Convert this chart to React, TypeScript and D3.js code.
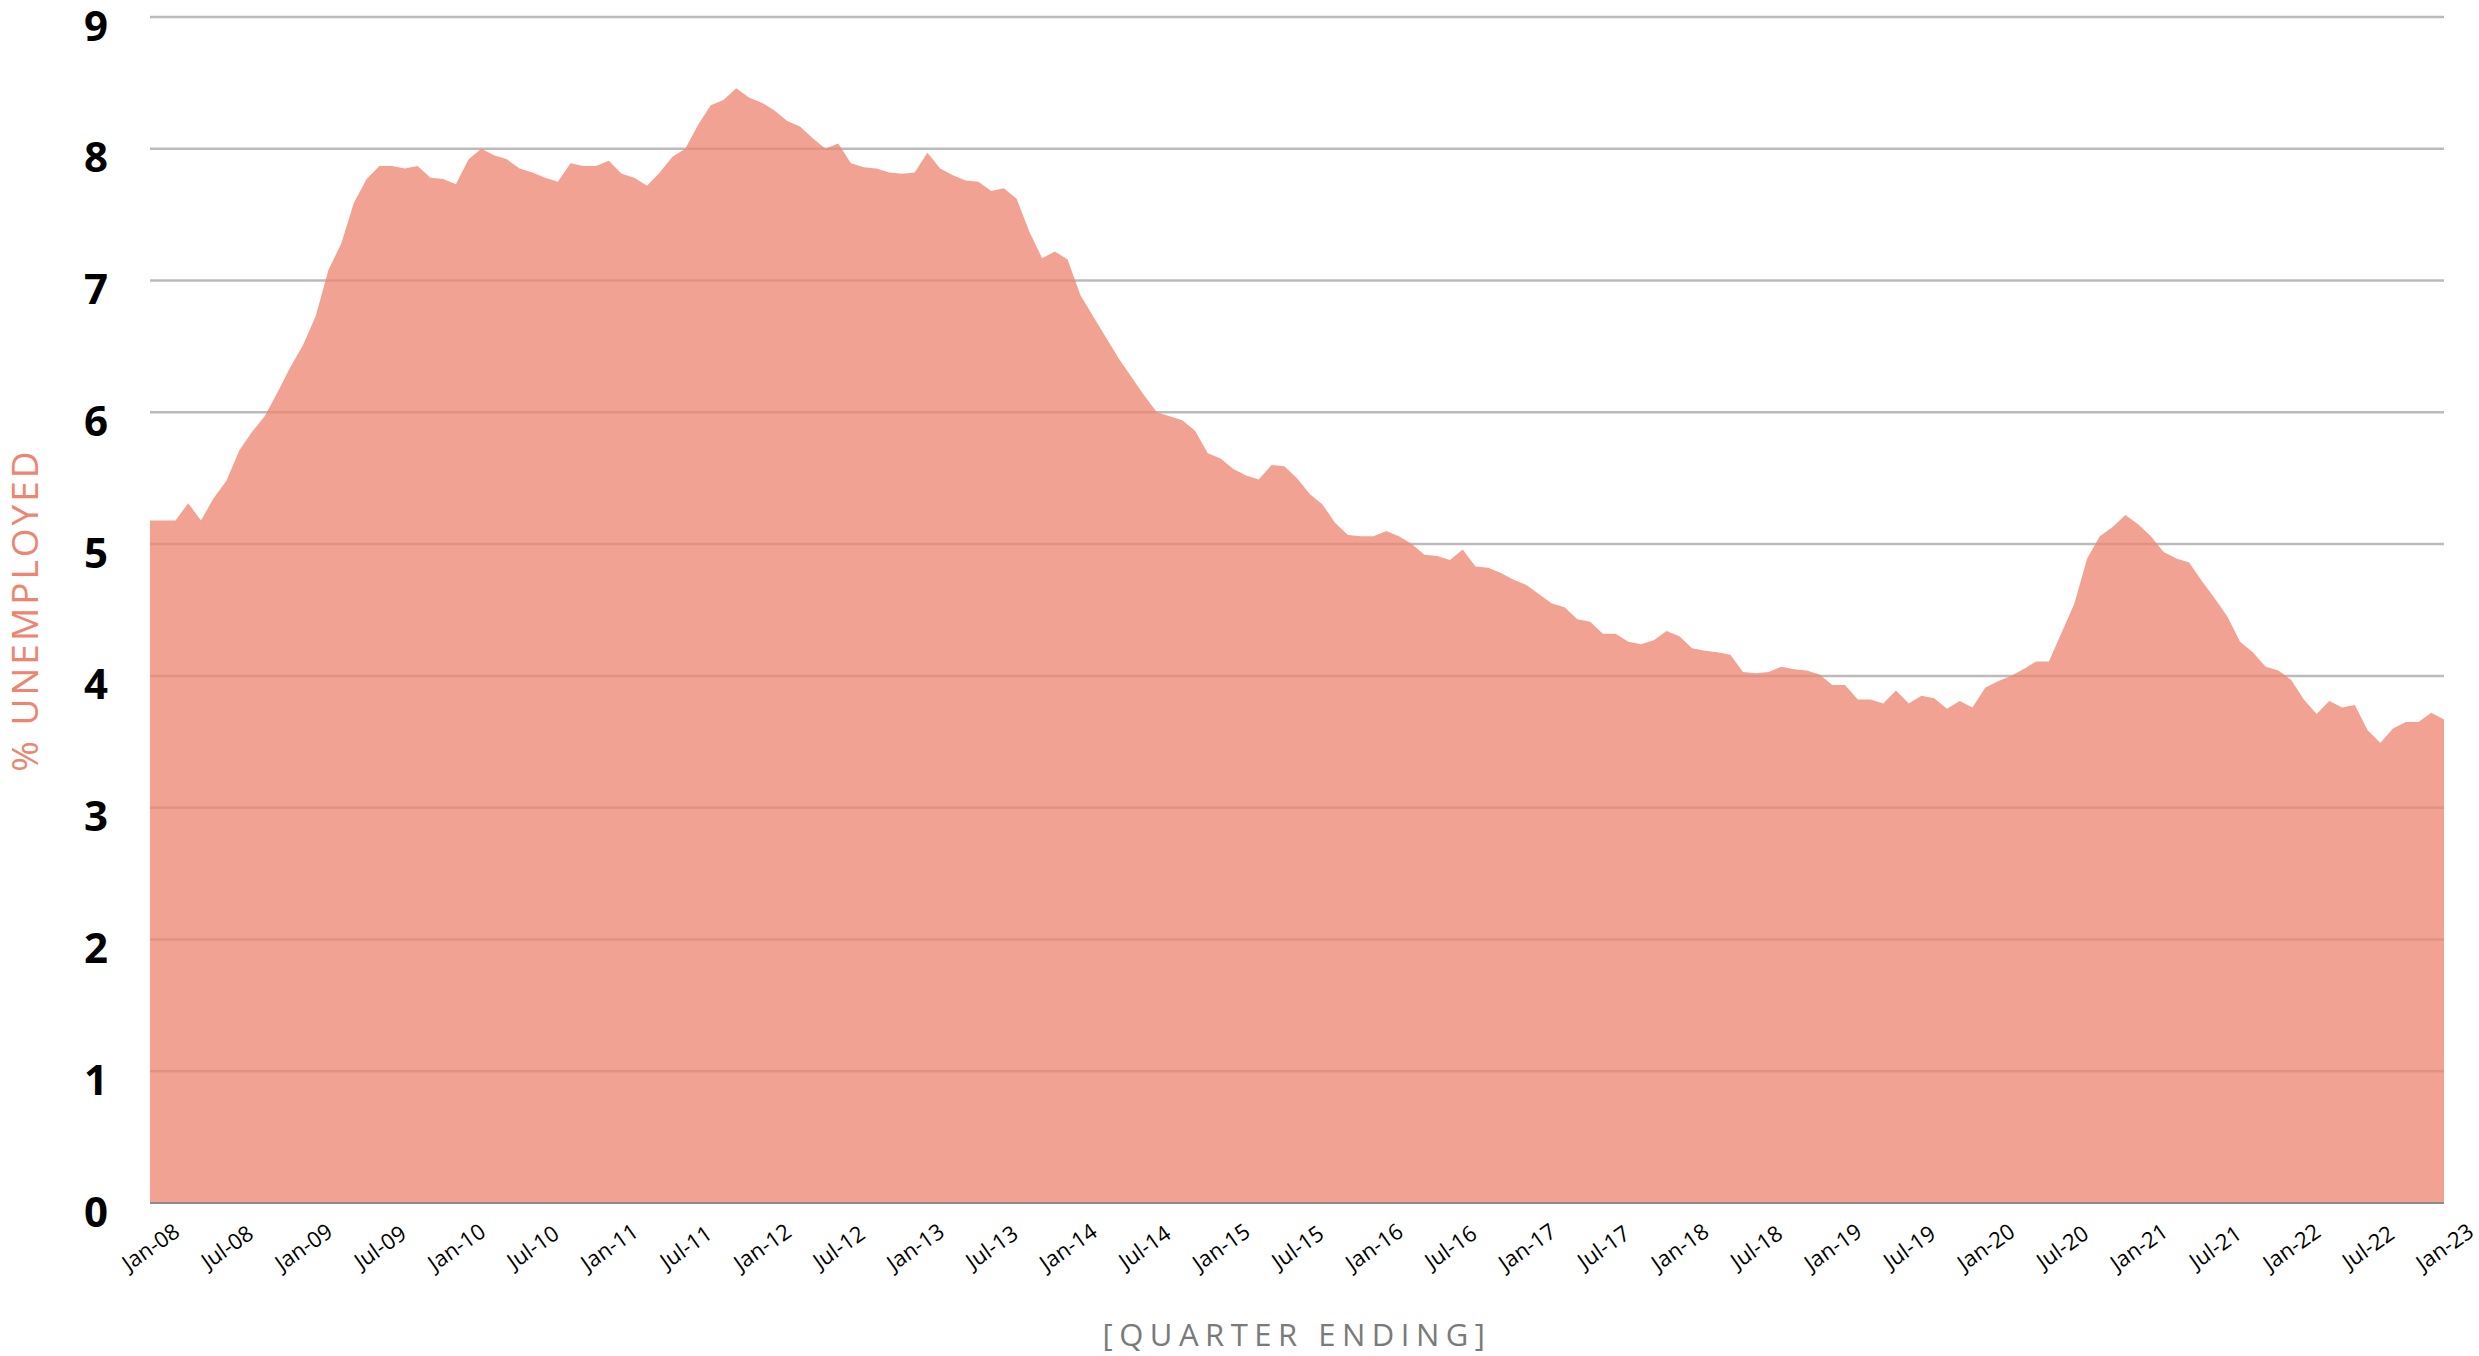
import React, { useEffect, useRef } from 'react';
import * as d3 from 'd3';

// % unemployed, monthly (quarter ending), Jan-08 .. Jan-23
const rate2008to2010 = [
  5.18, 5.18, 5.18, 5.31, 5.18, 5.35, 5.48, 5.71, 5.85, 5.97, 6.15, 6.34,
  6.51, 6.73, 7.08, 7.28, 7.59, 7.77, 7.87, 7.87, 7.85, 7.87, 7.78, 7.77,
  7.73, 7.92, 8.0, 7.95, 7.92, 7.85, 7.82, 7.78, 7.75, 7.89, 7.87, 7.87,
];
const rate2011to2013 = [
  7.91, 7.81, 7.78, 7.72, 7.82, 7.94, 8.0, 8.18, 8.33, 8.37, 8.46, 8.39,
  8.35, 8.29, 8.21, 8.17, 8.08, 8.0, 8.04, 7.89, 7.86, 7.85, 7.82, 7.81,
  7.82, 7.97, 7.85, 7.8, 7.76, 7.75, 7.68, 7.7, 7.62, 7.37, 7.17, 7.22,
];
const rate2014to2016 = [
  7.16, 6.89, 6.73, 6.57, 6.41, 6.27, 6.13, 6.0, 5.97, 5.94, 5.86, 5.69,
  5.65, 5.57, 5.52, 5.49, 5.6, 5.59, 5.5, 5.38, 5.3, 5.16, 5.07, 5.06,
  5.06, 5.1, 5.06, 5.0, 4.92, 4.91, 4.88, 4.96, 4.83, 4.82, 4.78, 4.73,
];
const rate2017to2019 = [
  4.69, 4.62, 4.55, 4.52, 4.43, 4.41, 4.32, 4.32, 4.26, 4.24, 4.27, 4.34,
  4.3, 4.21, 4.19, 4.18, 4.16, 4.03, 4.02, 4.03, 4.07, 4.05, 4.04, 4.01,
  3.93, 3.93, 3.82, 3.82, 3.79, 3.89, 3.79, 3.85, 3.83, 3.75, 3.81, 3.76,
];
const rate2020to2023 = [
  3.91, 3.96, 4.0, 4.05, 4.11, 4.11, 4.33, 4.55, 4.89, 5.06, 5.13, 5.22,
  5.15, 5.06, 4.94, 4.89, 4.86, 4.72, 4.59, 4.45, 4.26, 4.18, 4.07, 4.04,
  3.97, 3.82, 3.71, 3.81, 3.76, 3.78, 3.59, 3.49, 3.6, 3.65, 3.65, 3.72,
  3.67,
];

const tickLabels = [
  'Jan-08', 'Jul-08', 'Jan-09', 'Jul-09', 'Jan-10', 'Jul-10', 'Jan-11', 'Jul-11',
  'Jan-12', 'Jul-12', 'Jan-13', 'Jul-13', 'Jan-14', 'Jul-14', 'Jan-15', 'Jul-15',
  'Jan-16', 'Jul-16', 'Jan-17', 'Jul-17', 'Jan-18', 'Jul-18', 'Jan-19', 'Jul-19',
  'Jan-20', 'Jul-20', 'Jan-21', 'Jul-21', 'Jan-22', 'Jul-22', 'Jan-23',
];
const yTicks = [0, 1, 2, 3, 4, 5, 6, 7, 8, 9];

const rates = [
  ...rate2008to2010,
  ...rate2011to2013,
  ...rate2014to2016,
  ...rate2017to2019,
  ...rate2020to2023,
];

const WIDTH = 2479;
const HEIGHT = 1356;
const margin = { top: 17, right: 35, bottom: 153, left: 150 };

const UnemploymentChart: React.FC = () => {
  const svgRef = useRef<SVGSVGElement | null>(null);

  useEffect(() => {
    const svg = d3.select(svgRef.current);
    svg.selectAll('*').remove();

    const x = d3
      .scaleLinear()
      .domain([0, rates.length - 1])
      .range([margin.left, WIDTH - margin.right]);

    const y = d3
      .scaleLinear()
      .domain([0, 9])
      .range([HEIGHT - margin.bottom, margin.top]);

    // gridlines (drawn first, the area is slightly see-through)
    svg
      .append('g')
      .selectAll('line')
      .data(yTicks.filter((d) => d > 0))
      .join('line')
      .attr('x1', margin.left)
      .attr('x2', WIDTH - margin.right)
      .attr('y1', (d) => y(d))
      .attr('y2', (d) => y(d))
      .attr('stroke', '#bbbbbb')
      .attr('stroke-width', 2.5);

    const area = d3
      .area<number>()
      .x((_, i) => x(i))
      .y0(y(0))
      .y1((d) => y(d));

    svg
      .append('path')
      .datum(rates)
      .attr('fill', '#ee8570')
      .attr('fill-opacity', 0.76)
      .attr('d', area);

    // baseline
    svg
      .append('line')
      .attr('x1', margin.left)
      .attr('x2', WIDTH - margin.right)
      .attr('y1', y(0))
      .attr('y2', y(0))
      .attr('stroke', '#8c8c8c')
      .attr('stroke-width', 2);

    // y labels
    svg
      .append('g')
      .selectAll('text')
      .data(yTicks)
      .join('text')
      .attr('x', 108)
      .attr('y', (d) => y(d) + 7)
      .attr('text-anchor', 'end')
      .attr('dominant-baseline', 'central')
      .attr('font-family', '"Open Sans", sans-serif')
      .attr('font-weight', 700)
      .attr('font-size', 42)
      .attr('fill', '#000')
      .text((d) => d);

    // x labels, every 6 months
    svg
      .append('g')
      .selectAll('text')
      .data(tickLabels)
      .join('text')
      .attr('transform', (_, i) => `translate(${x(i * 6)},${HEIGHT - margin.bottom + 43}) rotate(-35)`)
      .attr('text-anchor', 'middle')
      .attr('dominant-baseline', 'central')
      .attr('font-family', '"Open Sans", sans-serif')
      .attr('font-size', 22)
      .attr('fill', '#000')
      .text((d) => d);

    // axis titles
    svg
      .append('text')
      .attr('transform', `translate(23,610) rotate(-90)`)
      .attr('text-anchor', 'middle')
      .attr('dominant-baseline', 'central')
      .attr('font-family', '"Open Sans", sans-serif')
      .attr('font-size', 37)
      .attr('letter-spacing', 3)
      .attr('fill', '#ee8570')
      .text('% UNEMPLOYED');

    svg
      .append('text')
      .attr('x', (margin.left + WIDTH - margin.right) / 2)
      .attr('y', 1346)
      .attr('text-anchor', 'middle')
      .attr('font-family', '"Open Sans", sans-serif')
      .attr('font-weight', 400)
      .attr('font-size', 31)
      .attr('letter-spacing', 6.5)
      .attr('fill', '#7a7a7a')
      .text('[QUARTER ENDING]');
  }, []);

  return (
    <svg
      ref={svgRef}
      width={WIDTH}
      height={HEIGHT}
      style={{ position: 'absolute', left: 0, top: 0, background: '#fff' }}
    ></svg>
  );
};

export default function App() {
  return <UnemploymentChart />;
}
